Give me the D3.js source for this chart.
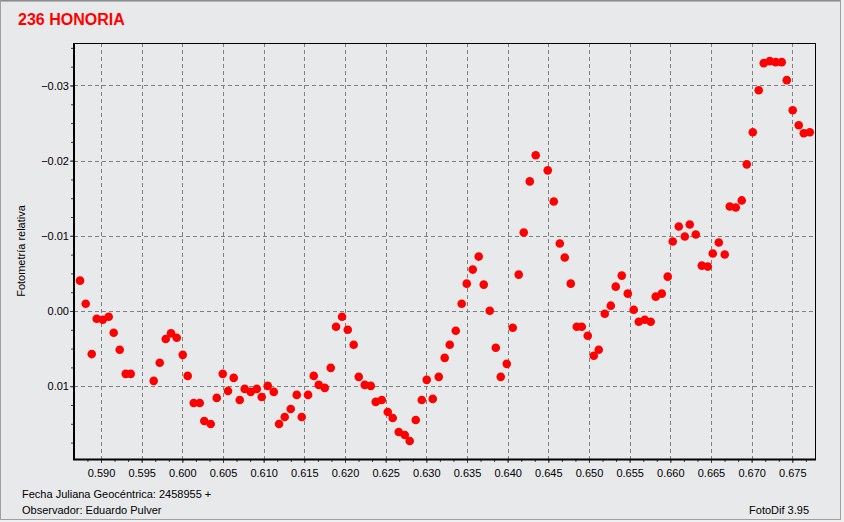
<!DOCTYPE html>
<html><head><meta charset="utf-8">
<script src="https://cdn.jsdelivr.net/npm/d3@7"></script>
<style>
html,body{margin:0;padding:0;background:#e8e9eb;}
svg{display:block;}
text{font-family:"Liberation Sans",Arial,sans-serif;}
</style></head>
<body>
<svg id="chart" width="844" height="522"></svg>
<script>
// ---- data ----
const title = "236 HONORIA";
const xLabel = "Fecha Juliana Geocéntrica: 2458955 +";
const observer = "Observador: Eduardo Pulver";
const software = "FotoDif 3.95";
const yLabel = "Fotometría relativa";

const jd = [
0.58742,0.58812,0.58886,0.58947,0.59021,0.59095,0.59156,0.59230,0.59304,0.59365,
0.59648,0.59722,0.59796,0.59861,0.59931,0.60005,0.60066,0.60140,0.60214,0.60270,
0.60349,0.60423,0.60497,0.60562,0.60632,0.60706,0.60767,0.60841,0.60915,0.60976,
0.61050,0.61124,0.61189,0.61259,0.61333,0.61407,0.61468,0.61546,0.61616,0.61677,
0.61751,0.61825,0.61890,0.61964,0.62034,0.62107,0.62169,0.62243,0.62317,0.62378,
0.62452,0.62526,0.62587,0.62661,0.62735,0.62796,0.62870,0.62944,0.63005,0.63079,
0.63153,0.63226,0.63288,0.63362,0.63435,0.63497,0.63571,0.63644,0.63706,0.63780,
0.63854,0.63915,0.63989,0.64063,0.64136,0.64198,0.64272,0.64345,0.64493,0.64567,
0.64641,0.64702,0.64776,0.64850,0.64911,0.64985,0.65059,0.65120,0.65194,0.65268,
0.65329,0.65403,0.65477,0.65550,0.65612,0.65686,0.65759,0.65821,0.65895,0.65968,
0.66030,0.66104,0.66178,0.66239,0.66313,0.66387,0.66460,0.66522,0.66596,0.66669,
0.66731,0.66805,0.66878,0.66940,0.67014,0.67087,0.67149,0.67223,0.67296,0.67370,
0.67432,0.67505,0.67579,0.67641,0.67715
];
const mag = [
-0.00404,-0.00097,0.00573,0.00103,0.00116,0.00076,0.00289,0.00516,0.00836,0.00836,
0.00929,0.00689,0.00373,0.00297,0.00356,0.00583,0.00863,0.01223,0.01223,0.01463,
0.01503,0.01156,0.00836,0.01063,0.00889,0.01183,0.01036,0.01076,0.01036,0.01143,
0.00996,0.01076,0.01503,0.01409,0.01303,0.01116,0.01409,0.01116,0.00863,0.00983,
0.01023,0.00756,0.00209,0.00076,0.00249,0.00449,0.00876,0.00983,0.00996,0.01209,
0.01183,0.01343,0.01423,0.01609,0.01649,0.01729,0.01449,0.01183,0.00916,0.01169,
0.00876,0.00623,0.00449,0.00263,-0.00097,-0.00364,-0.00551,-0.00724,-0.00351,-0.00004,
0.00489,0.00876,0.00703,0.00223,-0.00484,-0.01044,-0.01724,-0.02071,-0.01871,-0.01457,
-0.00897,-0.00711,-0.00364,0.00209,0.00209,0.00329,0.00596,0.00516,0.00036,-0.00071,
-0.00324,-0.00471,-0.00231,-0.00017,0.00143,0.00116,0.00143,-0.00191,-0.00231,-0.00457,
-0.00924,-0.01124,-0.00991,-0.01151,-0.01017,-0.00604,-0.00591,-0.00764,-0.00911,-0.00751,
-0.01391,-0.01377,-0.01471,-0.01951,-0.02377,-0.02937,-0.03297,-0.03324,-0.03311,-0.03311,
-0.03071,-0.02671,-0.02471,-0.02364,-0.02377
];
const xTicks = [0.590,0.595,0.600,0.605,0.610,0.615,0.620,0.625,0.630,0.635,0.640,0.645,0.650,0.655,0.660,0.665,0.670,0.675];
const yTicks = [-0.03,-0.02,-0.01,0.00,0.01];
const xDomain = [0.58668, 0.67779];
const yDomain = [-0.03565, 0.019686];

// ---- layout ----
const W = 844, H = 522;
const L = 74, R = 815, T = 43, B = 459;
const svg = d3.select("#chart");

// outer window frame
svg.append("rect").attr("x",0).attr("y",0).attr("width",W).attr("height",H).attr("fill","#f0f0f0");
svg.append("rect").attr("x",0).attr("y",0).attr("width",841).attr("height",520).attr("fill","#e8e9eb");
svg.append("line").attr("x1",0).attr("x2",841).attr("y1",0.5).attr("y2",0.5).attr("stroke","#8c8c8c");
svg.append("line").attr("x1",0).attr("x2",841).attr("y1",1.5).attr("y2",1.5).attr("stroke","#b4b4b4");
svg.append("line").attr("x1",0.5).attr("x2",0.5).attr("y1",0).attr("y2",520).attr("stroke","#a0a0a0");
svg.append("line").attr("x1",840.5).attr("x2",840.5).attr("y1",0).attr("y2",520).attr("stroke","#a0a0a0");
svg.append("line").attr("x1",0).attr("x2",841).attr("y1",519.5).attr("y2",519.5).attr("stroke","#a0a0a0");

const x = d3.scaleLinear().domain(xDomain).range([L, R]);
const y = d3.scaleLinear().domain(yDomain).range([T, B]);

// title
svg.append("text").attr("x",18).attr("y",25).attr("fill","#ff0000")
  .attr("font-size","16px").attr("font-weight","bold").text(title);

// gridlines
const grid = svg.append("g").attr("stroke","#808080").attr("stroke-width",1).attr("stroke-dasharray","4,3");
grid.selectAll("line.vx").data(xTicks).enter().append("line")
  .attr("x1",d=>Math.round(x(d))+0.5).attr("x2",d=>Math.round(x(d))+0.5)
  .attr("y1",T).attr("y2",B);
grid.selectAll("line.hy").data(yTicks).enter().append("line")
  .attr("y1",d=>Math.round(y(d))+0.5).attr("y2",d=>Math.round(y(d))+0.5)
  .attr("x1",L).attr("x2",R);

// minor ticks
const xMinor = d3.range(Math.ceil(xDomain[0]/(0.005/3)), Math.floor(xDomain[1]/(0.005/3))+1).map(i=>i*0.005/3);
const yMinor = d3.range(Math.ceil(yDomain[0]/0.0025), Math.floor(yDomain[1]/0.0025)+1).map(i=>i*0.0025);

// axes via d3
const xAxis = d3.axisBottom(x).tickValues(xMinor).tickSize(3).tickFormat("");
const gx = svg.append("g").attr("transform",`translate(0,${B})`).call(xAxis);
gx.select(".domain").remove();
gx.selectAll("line").attr("stroke","#404040");
const xAxisMaj = d3.axisBottom(x).tickValues(xTicks).tickSize(4).tickPadding(6).tickFormat(d3.format(".3f"));
const gx2 = svg.append("g").attr("transform",`translate(0,${B})`).call(xAxisMaj);
gx2.select(".domain").remove();
gx2.selectAll("line").attr("stroke","#404040");
gx2.selectAll("text").attr("font-size","11px").attr("fill","#000").attr("font-family","'Liberation Sans',Arial,sans-serif");

const yAxis = d3.axisLeft(y).tickValues(yMinor).tickSize(3).tickFormat("");
const gy = svg.append("g").attr("transform",`translate(${L},0)`).call(yAxis);
gy.select(".domain").remove();
gy.selectAll("line").attr("stroke","#404040");
const yAxisMaj = d3.axisLeft(y).tickValues(yTicks).tickSize(4).tickPadding(1).tickFormat(d3.format(".2f"));
const gy2 = svg.append("g").attr("transform",`translate(${L},0)`).call(yAxisMaj);
gy2.select(".domain").remove();
gy2.selectAll("line").attr("stroke","#404040");
gy2.selectAll("text").attr("font-size","11px").attr("fill","#000").attr("font-family","'Liberation Sans',Arial,sans-serif");

// frame of plot
svg.append("line").attr("x1",L).attr("x2",R+0.5).attr("y1",T+0.5).attr("y2",T+0.5).attr("stroke","#000");
svg.append("line").attr("x1",R+0.5).attr("x2",R+0.5).attr("y1",T).attr("y2",B).attr("stroke","#000");
svg.append("line").attr("x1",L).attr("x2",L).attr("y1",T).attr("y2",B+1).attr("stroke","#000").attr("stroke-width",2);
svg.append("line").attr("x1",L-1).attr("x2",R+1).attr("y1",B+0.5).attr("y2",B+0.5).attr("stroke","#000").attr("stroke-width",2);

// points
const pts = jd.map((d,i)=>({x:d,y:mag[i]}));
svg.append("g").selectAll("circle").data(pts).enter().append("circle")
  .attr("cx",d=>x(d.x)).attr("cy",d=>y(d.y)).attr("r",4.3).attr("fill","#ff0000");

// labels
svg.append("text").attr("transform","translate(25,251) rotate(-90)").attr("text-anchor","middle")
  .attr("font-size","11px").attr("fill","#000").text(yLabel);
svg.append("text").attr("x",22).attr("y",498).attr("font-size","11px").attr("fill","#000").text(xLabel);
svg.append("text").attr("x",22).attr("y",514).attr("font-size","11px").attr("fill","#000").text(observer);
svg.append("text").attr("x",809).attr("y",514).attr("text-anchor","end").attr("font-size","11px").attr("fill","#000").text(software);
</script>
</body></html>
